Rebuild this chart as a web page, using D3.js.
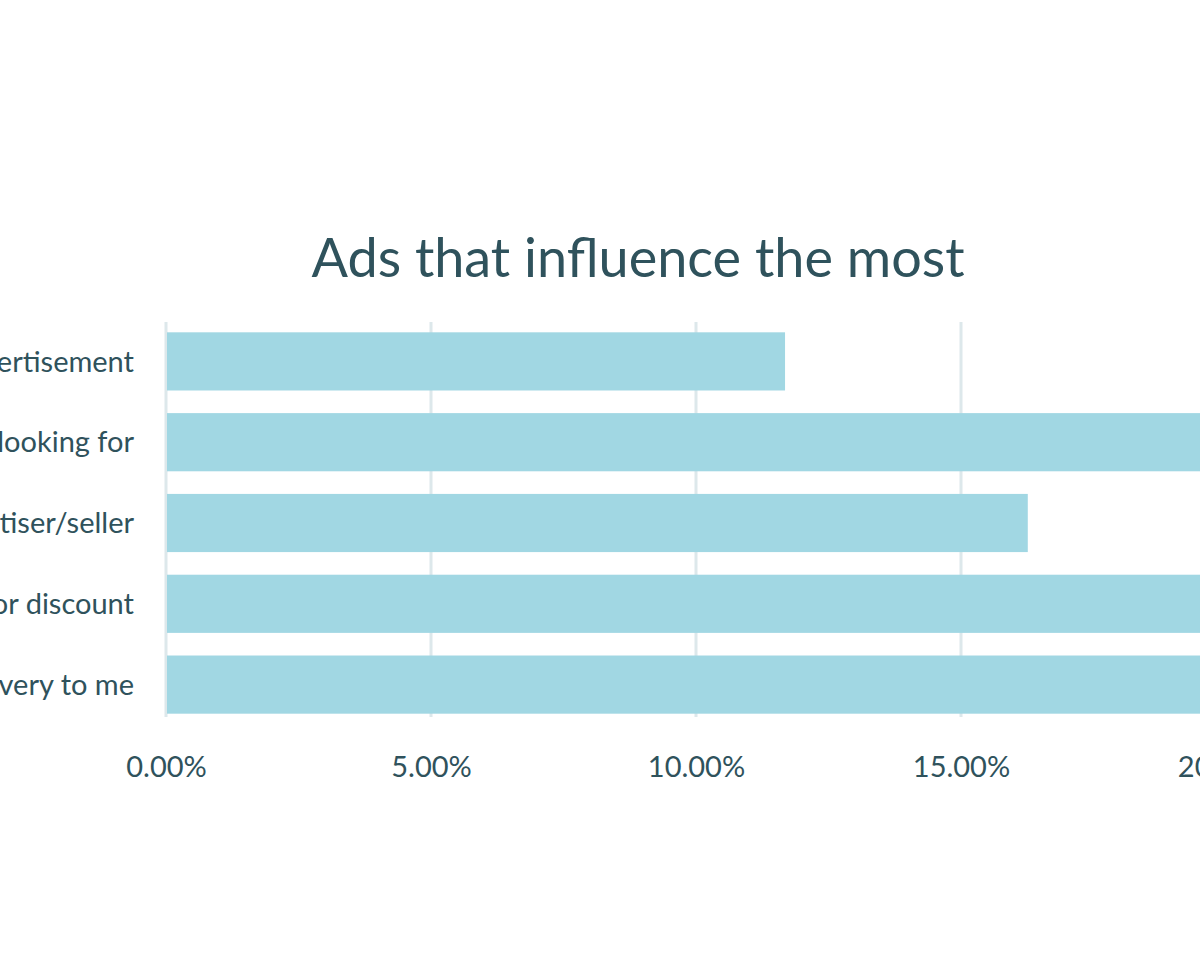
<!DOCTYPE html>
<html><head><meta charset="utf-8">
<script src="https://cdn.jsdelivr.net/npm/d3@7"></script>
<style>html,body{margin:0;padding:0;background:#fff;overflow:hidden}</style>
</head><body>
<svg id="c" width="1200" height="966"></svg>
<script>
const categories = ["Creative advertisement","Product I was looking for","Trusted advertiser/seller","Offer or discount","Free delivery to me"];
const values = [0.1168, 0.234, 0.1626, 0.216, 0.257];
const tickValues = [0, 0.05, 0.10, 0.15, 0.20, 0.25];
const title = "Ads that influence the most";

const svg = d3.select("#c");
const font = "Lato, 'Open Sans', sans-serif";
const textColor = "#2f525c";
const x = d3.scaleLinear().domain([0, 0.25]).range([166, 166 + 5300*0.25]);
const y = d3.scaleBand().domain(categories).range([321, 725]).paddingInner(0.28).paddingOuter(0.14);

// gridlines
svg.append("g").selectAll("line").data(tickValues).join("line")
  .attr("x1", d => x(d)).attr("x2", d => x(d))
  .attr("y1", 322).attr("y2", 717)
  .attr("stroke", "#dde8eb").attr("stroke-width", 3);

// bars
svg.append("g").selectAll("rect").data(values).join("rect")
  .attr("x", x(0) + 1).attr("y", (d,i) => y(categories[i]))
  .attr("width", d => x(d) - x(0) - 1).attr("height", y.bandwidth())
  .attr("fill", "#a1d7e3");

// x axis
const xAxis = d3.axisBottom(x).tickValues(tickValues).tickFormat(d3.format(".2%")).tickSize(0).tickPadding(0);
const gx = svg.append("g").attr("transform", "translate(0,749)").call(xAxis);
gx.select(".domain").remove();
gx.selectAll("text").attr("fill", textColor).style("font-family", font).style("font-size", "29px").attr("dy", "0.95em");

// y axis
const yAxis = d3.axisLeft(y).tickSize(0).tickPadding(0);
const gy = svg.append("g").attr("transform", "translate(134,0)").call(yAxis);
gy.select(".domain").remove();
gy.selectAll("text").attr("fill", textColor).style("font-family", font).style("font-size", "29px").attr("dy", "0.35em");

// title
svg.append("text").attr("x", 638).attr("y", 277).attr("text-anchor", "middle")
  .attr("fill", textColor).style("font-family", font).style("font-size", "54px").text(title);
</script>
</body></html>
